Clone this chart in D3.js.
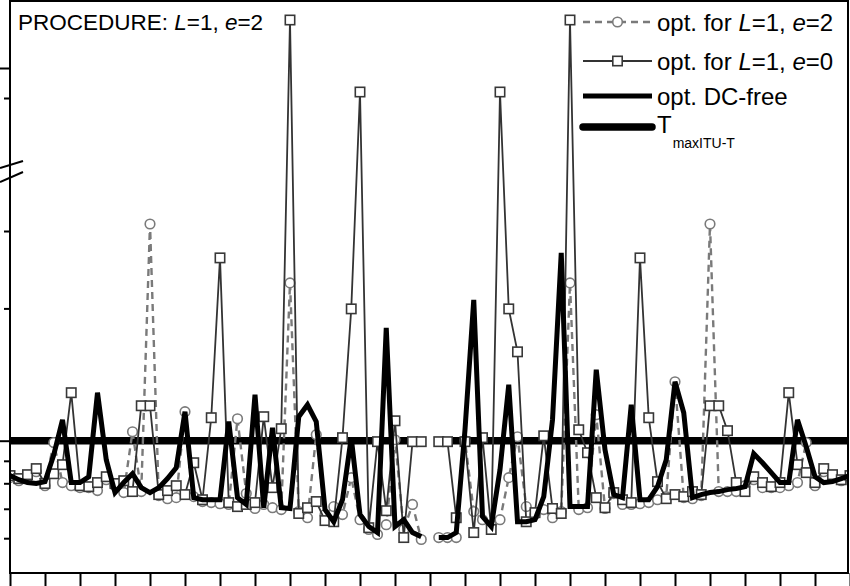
<!DOCTYPE html>
<html><head><meta charset="utf-8">
<script src="https://cdn.jsdelivr.net/npm/d3@7"></script>
<style>body{margin:0;background:#fff} svg{display:block;font-family:"Liberation Sans",Arial,sans-serif}</style>
</head><body><svg id="c" width="850" height="586"></svg>
<script>
// subcarrier index (0 = DC, no value)
const freq = d3.range(-48, 49);

// opt. for L=1, e=2 (circles, dashed)
const e2Left  = [0.824,0.811,0.824,0.850,0.790,0.990,0.803,0.790,0.782,0.782,
                 0.770,0.815,0.790,0.762,1.048,0.766,3.112,0.750,0.738,0.742,
                 1.164,0.746,0.727,0.723,0.719,0.716,1.122,0.758,0.701,0.716,
                 0.704,0.697,2.286,0.690,0.668,1.032,0.679,0.708,0.679,0.824,
                 0.661,0.628,0.612,0.644,1.005,0.628,0.716,0.596];
const e2Right = [0.602,0.602,0.602,1.000,0.690,0.661,0.644,0.661,0.824,1.021,
                 0.708,0.679,0.697,0.668,0.690,2.286,0.697,0.704,1.146,0.701,
                 0.758,0.716,0.716,0.719,0.723,0.734,0.746,1.362,0.742,0.738,
                 0.750,3.112,0.766,0.766,0.766,0.790,0.815,0.782,0.782,0.782,
                 0.790,0.803,0.990,0.790,0.850,0.824,0.811,0.824];

// opt. for L=1, e=0 (squares, solid)
const e0Left  = [0.833,0.820,0.837,0.864,0.799,0.841,0.882,1.286,0.790,0.786,
                 0.803,0.828,0.799,0.811,0.766,1.201,1.201,0.754,0.770,0.790,
                 0.754,0.891,0.734,1.128,2.606,0.723,0.708,0.716,0.723,1.134,
                 0.782,1.065,11.6,0.683,0.704,0.727,0.658,0.654,1.016,1.995,
                 9.2,0.634,0.995,0.693,1.110,0.602,0.995,0.995];
const e0Right = [0.995,0.995,0.668,0.995,0.618,1.016,0.628,9.2,1.995,1.593,
                 0.654,0.686,1.026,0.701,0.683,11.6,1.059,0.939,0.742,0.704,
                 0.762,0.734,0.723,2.606,1.128,0.807,0.738,0.754,0.746,0.766,
                 0.754,1.201,1.201,1.054,0.803,0.766,0.828,0.803,0.786,0.803,
                 1.286,0.882,0.846,0.803,0.864,0.837,0.815,0.833];

// opt. DC-free (thick black)
const dcLeft  = [0.833,0.815,0.803,0.799,0.807,0.929,1.116,0.803,0.803,0.828,
                 1.286,0.905,0.762,0.803,0.841,0.782,0.762,0.782,0.820,0.868,
                 1.164,0.742,0.734,0.734,0.734,1.105,0.742,0.716,1.273,0.704,
                 1.070,0.704,0.701,1.134,1.207,1.105,0.697,0.654,0.734,1.016,
                 0.679,0.638,0.618,1.806,0.638,0.661,0.618,0.605];
const dcRight = [0.602,0.602,0.618,1.059,2.092,0.672,0.638,0.859,1.341,0.654,
                 0.654,0.661,0.746,1.116,2.675,0.708,0.708,0.708,1.450,0.954,
                 0.754,0.742,1.207,0.734,0.734,0.786,0.905,1.362,1.158,0.742,
                 0.754,0.762,0.766,0.774,0.778,0.786,0.934,0.891,0.846,0.803,
                 0.803,1.116,0.969,0.828,0.803,0.807,0.820,0.833];

const tmaxValue = 1;
const xTicks = d3.range(-48, 49, 4);
const yMinorTicksLow = [0.6, 0.7, 0.8, 0.9, 2, 3];
const yMajorTicksLow = [1];
const yMinorTicksHigh = [9];
const yMajorTicksHigh = [10];
const breakValue = 5;
const titleParts = [["PROCEDURE: ", false], ["L", true], ["=1, ", false], ["e", true], ["=2", false]];
const legendItems = [
  {key: "e2", parts: [["opt. for ", false], ["L", true], ["=1, ", false], ["e", true], ["=2", false]]},
  {key: "e0", parts: [["opt. for ", false], ["L", true], ["=1, ", false], ["e", true], ["=0", false]]},
  {key: "dc", parts: [["opt. DC-free", false]]},
  {key: "t",  parts: [["T", false]], sub: "maxITU-T"}
];

const join = (l, r) => l.concat([null], r);
const series = {
  e2: join(e2Left, e2Right),
  e0: join(e0Left, e0Right),
  dc: join(dcLeft, dcRight)
};

const svg = d3.select("#c");
const L = 10, R = 848, T = 1, B = 573;
const x = d3.scaleLinear().domain([-48, 48]).range([10, 850]);
const yLow = d3.scaleLog().domain([0.5, 4]).range([573, 176.1]);
const yHigh = d3.scaleLinear().domain([9, 10]).range([98, 68]);
const y = v => v > breakValue ? yHigh(v) : yLow(v);

const st = {
  e2: {stroke: "#7a7a7a", w: 2.4, dash: "7,5"},
  e0: {stroke: "#333", w: 1.8},
  dc: {stroke: "#000", w: 5},
  t:  {stroke: "#000", w: 7.5}
};

svg.append("defs").append("clipPath").attr("id", "clip")
  .append("rect").attr("x", L).attr("y", T).attr("width", R - L).attr("height", B - T);

const plot = svg.append("g").attr("clip-path", "url(#clip)");

const pts = key => freq.map((f, i) => ({f, v: series[key][i]}));
const line = d3.line().defined(d => d.v != null).x(d => x(d.f)).y(d => y(d.v));

// T max line (gap at DC)
const tPts = freq.map(f => ({f, v: f === 0 ? null : tmaxValue}));
plot.append("path").datum(tPts).attr("d", line)
  .attr("fill", "none").attr("stroke", st.t.stroke).attr("stroke-width", st.t.w);

// e=2 dashed + circles
plot.append("path").datum(pts("e2")).attr("d", line)
  .attr("fill", "none").attr("stroke", st.e2.stroke).attr("stroke-width", st.e2.w).attr("stroke-dasharray", st.e2.dash);
plot.selectAll("circle.e2").data(pts("e2").filter(d => d.v != null)).join("circle")
  .attr("cx", d => x(d.f)).attr("cy", d => y(d.v)).attr("r", 4.8)
  .attr("fill", "#fff").attr("stroke", st.e2.stroke).attr("stroke-width", 1.6);

// e=0 solid + squares
plot.append("path").datum(pts("e0")).attr("d", line)
  .attr("fill", "none").attr("stroke", st.e0.stroke).attr("stroke-width", st.e0.w);
plot.selectAll("rect.e0").data(pts("e0").filter(d => d.v != null)).join("rect")
  .attr("x", d => x(d.f) - 4.7).attr("y", d => y(d.v) - 4.7).attr("width", 9.4).attr("height", 9.4)
  .attr("fill", "#fff").attr("stroke", "#383838").attr("stroke-width", 1.6);

// DC-free thick
plot.append("path").datum(pts("dc")).attr("d", line)
  .attr("fill", "none").attr("stroke", st.dc.stroke).attr("stroke-width", st.dc.w).attr("stroke-linejoin", "miter");

// axes
const xAxis = d3.axisBottom(x).tickValues(xTicks).tickFormat("").tickSize(14).tickSizeOuter(0);
const gx = svg.append("g").attr("transform", `translate(0,${B})`).call(xAxis);
gx.select(".domain").remove();
gx.selectAll("line").attr("stroke", "#000").attr("stroke-width", 2);

function yTicks(scale, vals, size) {
  const g = svg.append("g").attr("transform", `translate(${L},0)`)
    .call(d3.axisLeft(scale).tickValues(vals).tickFormat("").tickSize(size).tickSizeOuter(0));
  g.select(".domain").remove();
  g.selectAll("line").attr("stroke", "#000").attr("stroke-width", 2);
}
yTicks(yLow, yMinorTicksLow, 6);
yTicks(yLow, yMajorTicksLow, 10);
yTicks(yHigh, yMinorTicksHigh, 6);
yTicks(yHigh, yMajorTicksHigh, 10);

// frame
svg.append("path").attr("d", `M${L},${B}V${T}H${R}V${B}Z`)
  .attr("fill", "none").attr("stroke", "#000").attr("stroke-width", 2);

// axis break marks
svg.append("line").attr("x1", 0).attr("y1", 168).attr("x2", 23).attr("y2", 161).attr("stroke", "#000").attr("stroke-width", 2);
svg.append("line").attr("x1", 0).attr("y1", 182).attr("x2", 23).attr("y2", 172).attr("stroke", "#000").attr("stroke-width", 2);

// title
const title = svg.append("text").attr("x", 18).attr("y", 30).attr("font-size", 22.5).attr("fill", "#000");
titleParts.forEach(p => title.append("tspan").text(p[0]).attr("font-style", p[1] ? "italic" : "normal"));

// legend
const legY = [22, 61, 96, 127];
const lx1 = 583, lx2 = 652, tx = 657;
legendItems.forEach((it, i) => {
  const g = svg.append("g");
  const yy = legY[i];
  const s = st[it.key];
  const ln = g.append("line").attr("x1", lx1).attr("x2", lx2).attr("y1", yy).attr("y2", yy)
    .attr("stroke", s.stroke).attr("stroke-width", s.w);
  if (s.dash) ln.attr("stroke-dasharray", s.dash);
  if (it.key === "t") ln.attr("stroke-linecap", "round");
  if (it.key === "e2") {
    g.append("circle").attr("cx", (lx1 + lx2) / 2).attr("cy", yy).attr("r", 4.8)
      .attr("fill", "#fff").attr("stroke", s.stroke).attr("stroke-width", 1.6);
  } else if (it.key === "e0") {
    g.append("rect").attr("x", (lx1 + lx2) / 2 - 4.7).attr("y", yy - 4.7).attr("width", 9.4).attr("height", 9.4)
      .attr("fill", "#fff").attr("stroke", "#383838").attr("stroke-width", 1.6);
  }
  const t = g.append("text").attr("x", tx).attr("y", it.key === "t" ? 133 : yy + 8.8)
    .attr("font-size", 24).attr("fill", "#000");
  it.parts.forEach(p => t.append("tspan").text(p[0]).attr("font-style", p[1] ? "italic" : "normal"));
  if (it.sub) t.append("tspan").text(it.sub).attr("font-size", 14).attr("dy", 15).attr("dx", 1);
});
</script>
</body></html>
